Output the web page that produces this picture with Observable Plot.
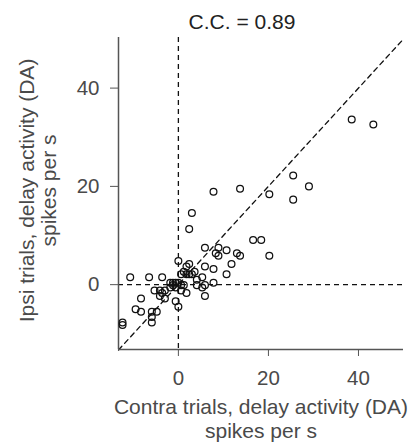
<!DOCTYPE html>
<html>
<head>
<meta charset="utf-8">
<script src="https://cdn.jsdelivr.net/npm/d3@7"></script>
<script src="https://cdn.jsdelivr.net/npm/@observablehq/plot@0.6"></script>
<style>
  html, body { margin: 0; padding: 0; background: #fff; }
  #chart svg { display: block; }
</style>
</head>
<body>
<div id="chart"></div>
<script>
const title = "C.C. = 0.89";
const xLabel = ["Contra trials, delay activity (DA)", "spikes per s"];
const yLabel = ["Ipsi trials, delay activity (DA)", "spikes per s"];
const xTicks = [0, 20, 40];
const yTicks = [0, 20, 40];
const xDomain = [-13.3, 50];
const yDomain = [-13.2, 50.3];

// Contra (x) and Ipsi (y) firing rates
const contra = [38.5, 43.3, 25.5, 29.0, 25.5, 20.2, 13.7, 7.8, 3.0, 2.4,
  16.6, 18.4, 20.2, 5.9, 8.9, 8.3, 8.9, 10.7, 13.0, 13.7,
  11.8, 10.7, 7.8, 5.9, 7.8, 5.9, 5.9, 5.3, 5.3, 4.1,
  4.1, 3.6, 2.4, 1.8, 1.2, 0.6, 1.8, 2.4, 3.0, 0.0,
  0.0, -0.6, -1.2, -1.8, 0.6, 1.2, -0.6, 0.6, 1.8, -1.2,
  -0.6, 0.0, -1.8, -3.0, -3.6, -6.5, -10.7, -5.3, -4.1, -3.6,
  -4.1, -3.0, -8.3, -9.5, -8.3, -5.9, -4.8, -5.9, -5.9, -12.4,
  -12.4];
const ipsi = [33.6, 32.6, 22.2, 20.0, 17.3, 18.4, 19.5, 18.9, 14.6, 11.3,
  9.1, 9.1, 5.9, 7.5, 7.5, 6.4, 5.9, 7.0, 6.4, 5.9,
  4.2, 2.1, 3.2, 3.7, 0.4, -0.1, -2.3, -0.6, 1.5, 1.0,
  -0.1, 2.6, 4.2, 3.7, 2.6, 2.1, 2.1, 2.1, 2.1, 4.8,
  0.4, 0.4, 0.4, 0.4, -0.1, -0.1, -0.6, -1.2, -1.7, -0.1,
  -3.4, -4.5, -0.6, -1.2, 1.5, 1.5, 1.5, -1.2, -1.2, -1.7,
  -2.3, -2.8, -2.8, -5.0, -5.5, -5.5, -5.5, -6.6, -7.7, -7.7,
  -8.2];

const points = contra.map((c, i) => ({contra: c, ipsi: ipsi[i]}));
const diagonal = [{v: xDomain[0]}, {v: xDomain[1]}];

const font = "'Liberation Sans', Arial, Helvetica, sans-serif";
const textColor = "#4a4a4a";

const chart = Plot.plot({
  width: 416,
  height: 445,
  marginLeft: 118,
  marginRight: 13,
  marginTop: 37,
  marginBottom: 96,
  style: {fontFamily: font, fontSize: "20px", color: textColor, background: "#fff"},
  x: {domain: xDomain},
  y: {domain: yDomain},
  marks: [
    Plot.ruleX([0], {stroke: "#111", strokeWidth: 1.3, strokeDasharray: "5,4"}),
    Plot.ruleY([0], {stroke: "#111", strokeWidth: 1.3, strokeDasharray: "5,4"}),
    Plot.line(diagonal, {x: "v", y: "v", stroke: "#111", strokeWidth: 1.3, strokeDasharray: "5,4"}),
    Plot.ruleX([xDomain[0]], {stroke: "#555", strokeWidth: 1.5}),
    Plot.ruleY([yDomain[0]], {stroke: "#555", strokeWidth: 1.5}),
    Plot.axisX({ticks: xTicks, tickSize: 7, tickPadding: 14, stroke: "#555", fill: textColor, fontSize: 20.5, label: null}),
    Plot.axisY({ticks: yTicks, tickSize: 8, tickPadding: 11, stroke: "#555", fill: textColor, fontSize: 20.5, label: null}),
    Plot.dot(points, {x: "contra", y: "ipsi", r: 3.4, stroke: "#111", strokeWidth: 1.25, fill: "none"}),
    Plot.text([title], {frameAnchor: "top", lineAnchor: "middle", dy: -15, dx: -19, fill: "#222", fontSize: 21}),
    Plot.text([xLabel[0]], {frameAnchor: "bottom", lineAnchor: "middle", dy: 58, dx: 0, fill: textColor, fontSize: 21}),
    Plot.text([xLabel[1]], {frameAnchor: "bottom", lineAnchor: "middle", dy: 82, dx: 0, fill: textColor, fontSize: 21}),
    Plot.text([yLabel[0]], {frameAnchor: "left", lineAnchor: "middle", textAnchor: "middle", dx: -91, dy: -3, rotate: -90, fill: textColor, fontSize: 21}),
    Plot.text([yLabel[1]], {frameAnchor: "left", lineAnchor: "middle", textAnchor: "middle", dx: -69, dy: -3, rotate: -90, fill: textColor, fontSize: 21})
  ]
});
document.getElementById("chart").appendChild(chart);
</script>
</body>
</html>
